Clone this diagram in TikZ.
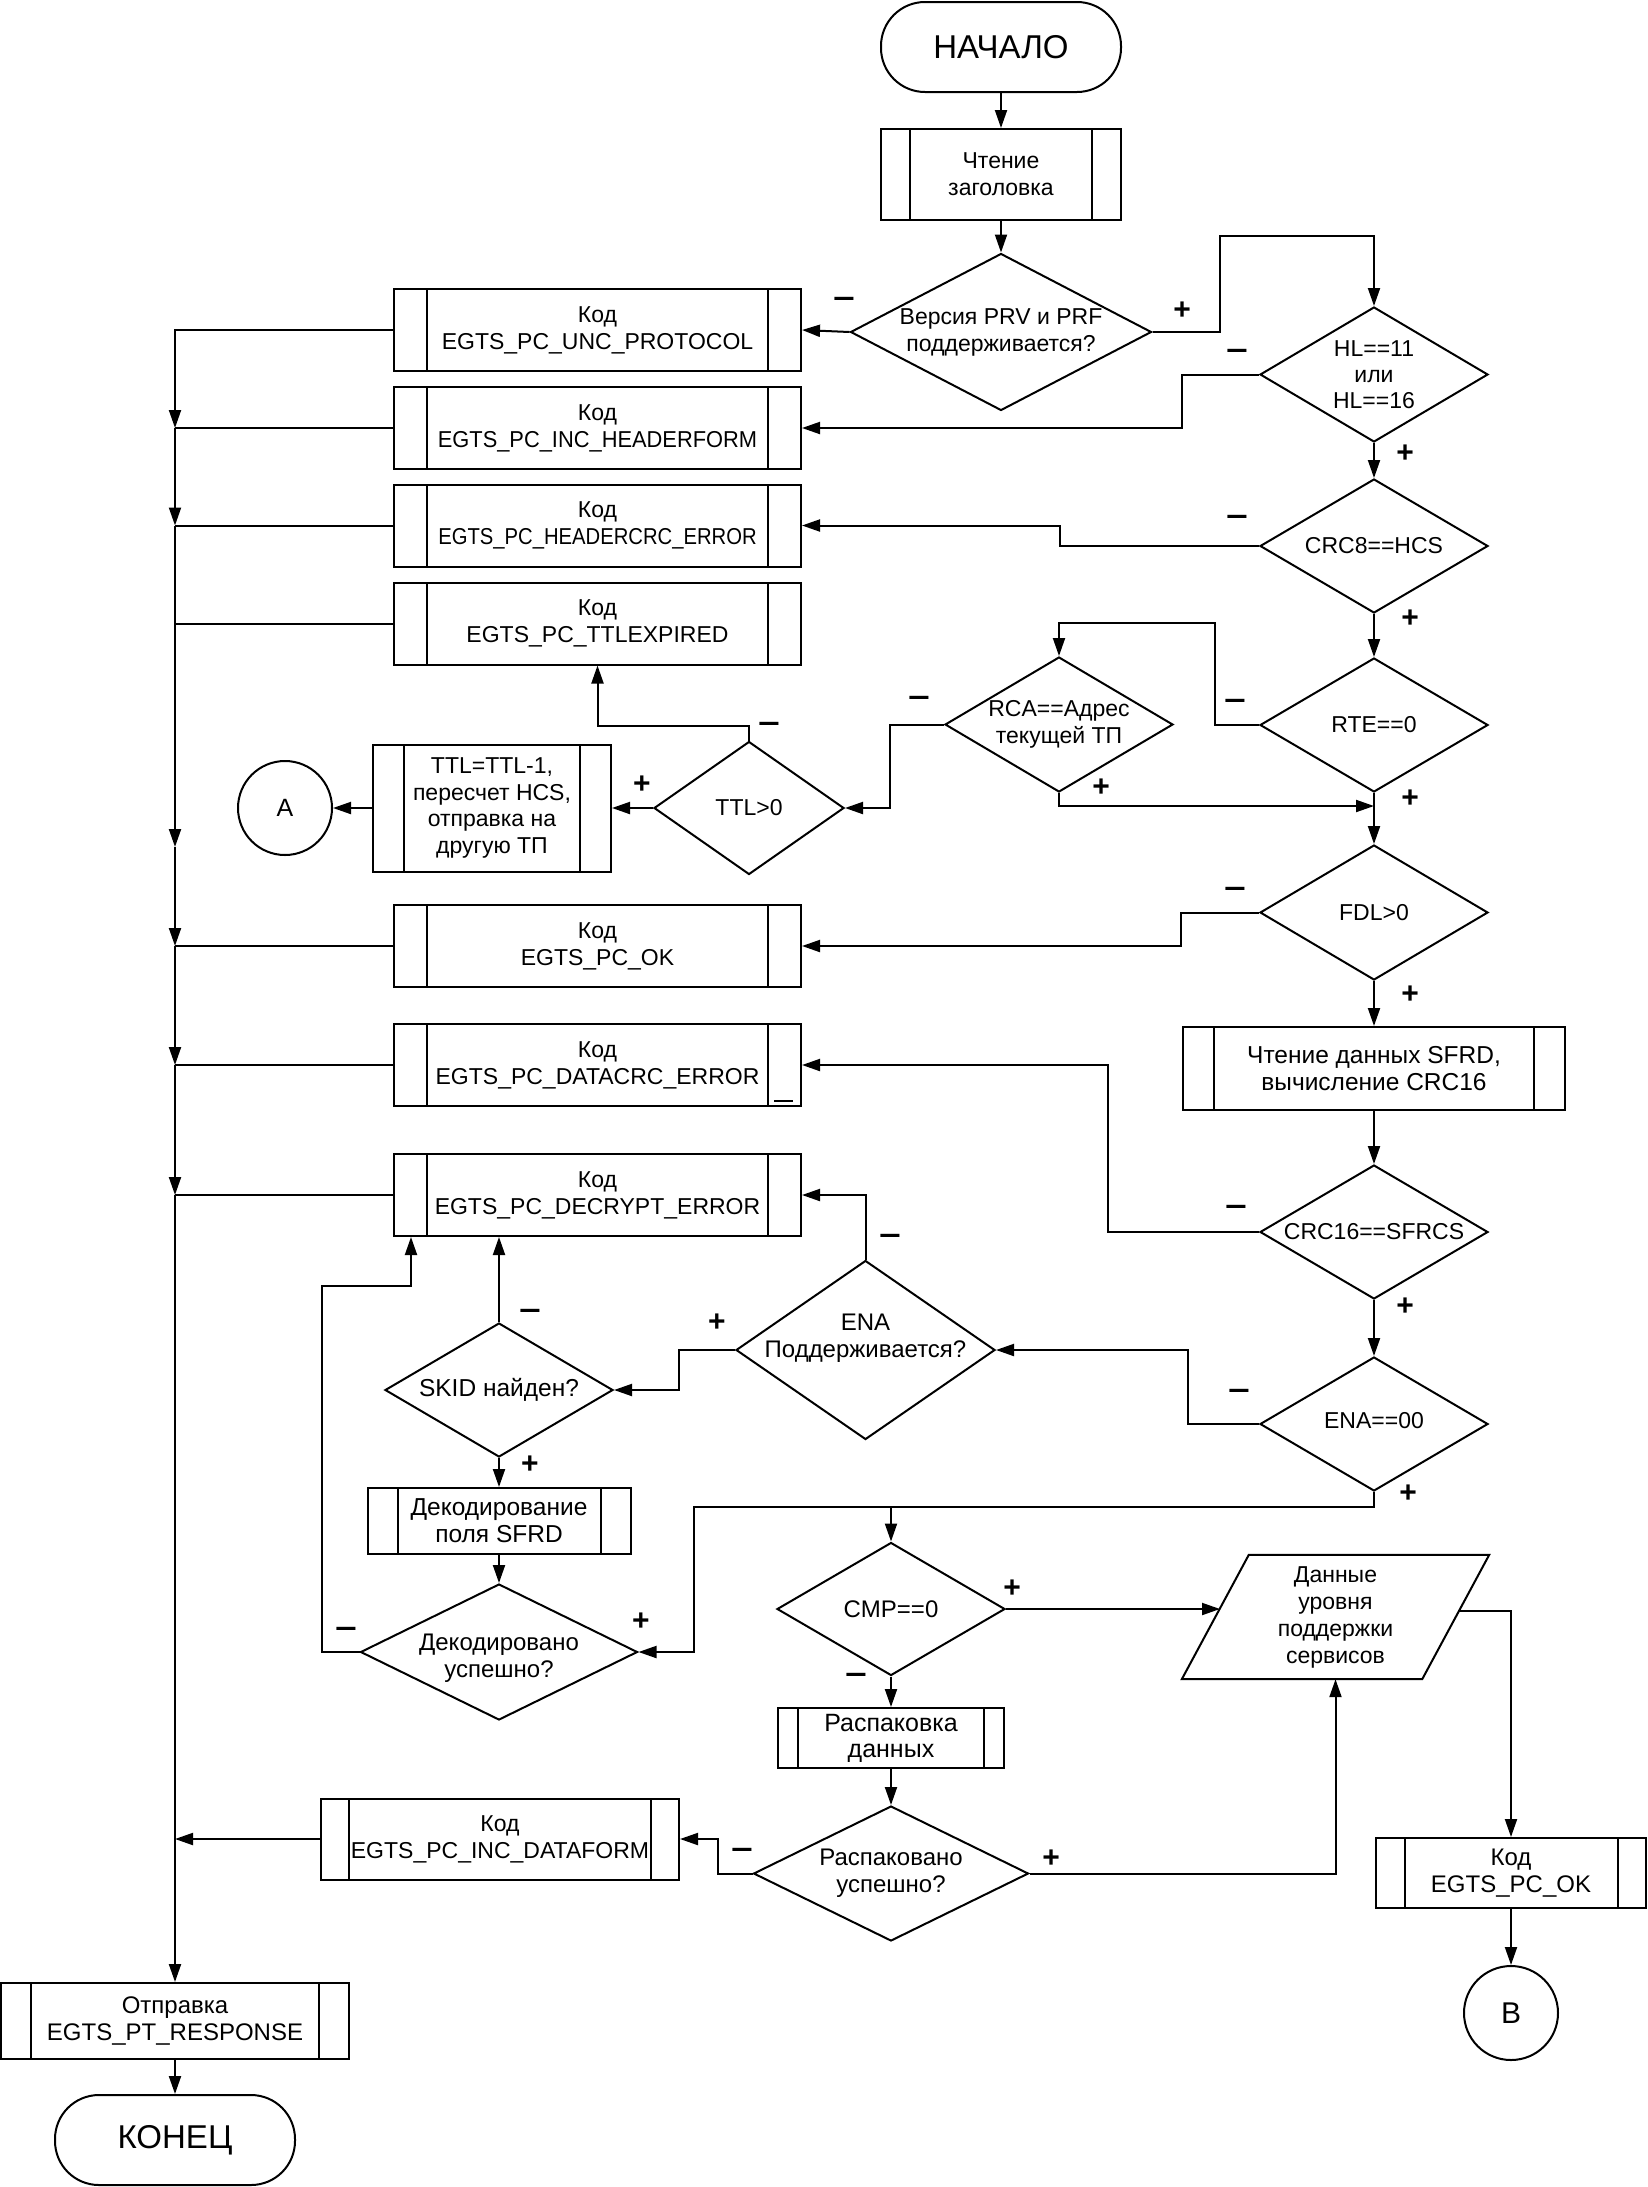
\documentclass[tikz,border=0pt]{standalone}
\usepackage{fontspec}
\usepackage{graphicx}
\setmainfont{Liberation Sans}
\usetikzlibrary{shapes.geometric,arrows.meta}
\newcommand{\fsz}[1]{\fontsize{#1}{27}\selectfont}
\newcommand{\mns}{\scalebox{1.2}[1]{–}}
\begin{document}
\begin{tikzpicture}[x=1pt,y=-1pt,
  every node/.style={inner sep=0pt},
  ln/.style={line width=2pt},
  arr/.style={line width=2pt,-{Triangle[length=18pt,width=12pt]}},
  txt/.style={align=center,font=\fontsize{23}{27}\selectfont},
  sub/.style={draw,line width=2pt,txt,path picture={\draw[line width=2pt] ([xshift=#1]path picture bounding box.north west) -- ([xshift=#1]path picture bounding box.south west) ([xshift=-#1]path picture bounding box.north east) -- ([xshift=-#1]path picture bounding box.south east);}},
  code/.style={sub=33pt,minimum width=407pt,minimum height=82pt},
  dia/.style={draw,diamond,line width=2pt},
  term/.style={draw,line width=2pt,rounded corners=44pt,minimum width=240pt,minimum height=90pt,font=\fontsize{33}{36}\selectfont},
  conn/.style={draw,circle,line width=2pt,minimum size=94pt},
  sg/.style={font=\fontsize{30}{30}\selectfont\bfseries},
  sm/.style={font=\fontsize{32}{32}\selectfont\bfseries}
]
\useasboundingbox (0,0) rectangle (1647,2187);

% ---------- nodes ----------
\node[term] (start) at (1001,47) {НАЧАЛО};
\node[sub=29pt,minimum width=240pt,minimum height=91pt] (read) at (1001,174.5) {Чтение\\заголовка};
\node[dia,minimum width=301pt,minimum height=157pt] (d1) at (1001,332) {};
\node[txt] (d1t) at (d1) {Версия PRV и PRF\\поддерживается?};

\node[code] (c1) at (597.5,330) {Код\\EGTS\_PC\_UNC\_PROTOCOL};
\node[code] (c2) at (597.5,428) {Код\\\scalebox{0.95}[1]{EGTS\_PC\_INC\_HEADERFORM}};
\node[code] (c3) at (597.5,525.5) {Код\\\scalebox{0.88}[1]{EGTS\_PC\_HEADERCRC\_ERROR}};
\node[code] (c4) at (597.5,623.5) {Код\\EGTS\_PC\_TTLEXPIRED};
\node[code] (c5) at (597.5,946) {Код\\EGTS\_PC\_OK};
\node[code] (c6) at (597.5,1065) {Код\\EGTS\_PC\_DATACRC\_ERROR};
\node[code] (c7) at (597.5,1195) {Код\\EGTS\_PC\_DECRYPT\_ERROR};

\node[dia,minimum width=228pt,minimum height=135pt] (d2) at (1374,374.5) {};
\node[txt,font=\fontsize{23}{26}\selectfont] (d2t) at (d2) {HL==11\\или\\HL==16};
\node[dia,minimum width=228pt,minimum height=134pt] (d3) at (1374,546) {};
\node[txt] (d3t) at (d3) {CRC8==HCS};
\node[dia,minimum width=228pt,minimum height=134pt] (d4) at (1374,725) {};
\node[txt] (d4t) at (d4) {RTE==0};
\node[dia,minimum width=228pt,minimum height=135pt] (d5) at (1059,724.5) {};
\node[txt] (d5t) at (d5) {RCA==Адрес\\текущей ТП};
\node[dia,minimum width=190pt,minimum height=133pt] (d6) at (749,808) {};
\node[txt] (d6t) at (d6) {TTL>0};
\node[sub=31pt,minimum width=238pt,minimum height=127pt,font=\fontsize{23}{26.5}\selectfont] (ttlbox) at (492,808) {TTL=TTL-1,\\пересчет HCS,\\отправка на\\другую ТП};
\node[conn,font=\fontsize{25}{25}\selectfont] (circA) at (285,808) {A};
\node[dia,minimum width=228pt,minimum height=135pt] (d7) at (1374,912.5) {};
\node[txt] (d7t) at (d7) {FDL>0};
\node[sub=31pt,minimum width=382pt,minimum height=83pt,font=\fsz{24.5}] (sfrd) at (1374,1068.5) {Чтение данных SFRD,\\вычисление CRC16};
\node[dia,minimum width=228pt,minimum height=134pt] (d8) at (1374,1232) {};
\node[txt] (d8t) at (d8) {CRC16==SFRCS};
\node[dia,minimum width=228pt,minimum height=134pt] (d9) at (1374,1424) {};
\node[txt] (d9t) at ([yshift=3pt]d9.center) {ENA==00};
\node[dia,minimum width=259pt,minimum height=179pt] (d10) at (865.5,1350) {};
\node[txt,font=\fsz{24}] (d10t) at ([yshift=12pt]d10.center) {ENA\\Поддерживается?};
\node[dia,minimum width=228pt,minimum height=134pt] (d11) at (499,1390) {};
\node[txt,font=\fsz{24.5}] (d11t) at (d11) {SKID найден?};
\node[sub=30pt,minimum width=263pt,minimum height=66pt,font=\fsz{24.5}] (dec) at (499,1521) {Декодирование\\поля SFRD};
\node[dia,minimum width=277pt,minimum height=136pt] (d12) at (499,1652) {};
\node[txt,font=\fsz{24}] (d12t) at ([yshift=-6pt]d12.center) {Декодировано\\успешно?};
\node[dia,minimum width=228pt,minimum height=133pt] (d13) at (891,1609) {};
\node[txt,font=\fsz{24}] (d13t) at (d13) {CMP==0};
\node[sub=20pt,minimum width=226pt,minimum height=60pt,font=\fontsize{25}{26}\selectfont] (unpack) at (891,1738) {Распаковка\\данных};
\node[dia,minimum width=275pt,minimum height=135pt] (d14) at (891,1873.5) {};
\node[txt,font=\fsz{24}] (d14t) at (d14) {Распаковано\\успешно?};
\node[sub=28pt,minimum width=358pt,minimum height=81pt] (incdata) at (500,1839) {Код\\EGTS\_PC\_INC\_DATAFORM};
\node[txt,minimum width=240pt,minimum height=124pt] (par) at (1335.5,1617) {Данные\\уровня\\поддержки\\сервисов};
\draw[ln] ([xshift=33.5pt]par.north west) -- ([xshift=33.5pt]par.north east) -- ([xshift=-33.5pt]par.south east) -- ([xshift=-33.5pt]par.south west) -- cycle;
\node[sub=28.5pt,minimum width=270pt,minimum height=70pt,font=\fsz{24}] (ok2) at (1511,1873) {Код\\EGTS\_PC\_OK};
\node[conn,font=\fontsize{30}{30}\selectfont] (circB) at (1511,2013) {B};
\node[sub=30pt,minimum width=348pt,minimum height=76pt,font=\fsz{24}] (send) at (175,2021) {Отправка\\EGTS\_PT\_RESPONSE};
\node[term] (end) at (175,2140) {КОНЕЦ};

% mark in DATACRC box
\draw[line width=2.5pt] (774,1101) -- (793,1101);

% ---------- coordinates ----------
\coordinate (b2) at (175,428);
\coordinate (b3) at (175,525.5);
\coordinate (b4) at (175,623.5);
\coordinate (bA) at (175,847);
\coordinate (b5) at (175,946);
\coordinate (b6) at (175,1065);
\coordinate (b7) at (175,1195);
\coordinate (b8) at (175,1839);
\coordinate (j1) at (1374,806);
\coordinate (j2) at (891,1507);
\coordinate (parL) at (1220,1609);
\coordinate (parR) at (1458.5,1611);

% ---------- connectors ----------
\draw[arr] (start) -- (read);
\draw[arr] (read) -- (d1);
\draw[arr] (d1.west) -- (c1.east);
\draw[arr] (d1.east) -| (1220,236) -| (d2.north);
\draw[arr] (d2.west) -| (1182,428) -- (c2.east);
\draw[arr] (d2.south) -- (d3.north);
\draw[arr] (d3.west) -| (1060,525.5) -- (c3.east);
\draw[arr] (d3.south) -- (d4.north);
\draw[arr] (d4.west) -| (1215,623) -| (d5.north);
\draw[arr] (d5.west) -| (890,808) -- (d6.east);
\draw[arr] (d5.south) |- (j1);
\draw[arr] (d4.south) -- (d7.north);
\draw[arr] (d6.north) -- (749,726) -| (c4.south);
\draw[arr] (d6.west) -- (ttlbox.east);
\draw[arr] (ttlbox.west) -- (circA.east);
\draw[arr] (d7.west) -| (1181,946) -- (c5.east);
\draw[arr] (d7.south) -- (sfrd.north);
\draw[arr] (sfrd.south) -- (d8.north);
\draw[arr] (d8.west) -| (1108,1065) -- (c6.east);
\draw[arr] (d8.south) -- (d9.north);
\draw[arr] (d9.west) -| (1188,1350) -- (d10.east);
\draw[arr] (d10.north) |- (c7.east);
\draw[arr] (d10.west) -| (679,1390) -- (d11.east);
\draw[arr] (d11.north) -- (d11.north |- c7.south);
\draw[arr] (d11.south) -- (dec.north);
\draw[arr] (dec.south) -- (d12.north);
\draw[arr] (d12.west) -| (322,1286) -| ([xshift=18pt]c7.south west);
\draw[arr] (d9.south) |- (694,1507) |- (d12.east);
\draw[arr] (j2) -- (d13.north);
\draw[arr] (d13.east) -- (parL);
\draw[arr] (d13.south) -- (unpack.north);
\draw[arr] (unpack.south) -- (d14.north);
\draw[arr] (d14.west) -| (718,1839) -- (incdata.east);
\draw[arr] (d14.east) -| (par.south);
\draw[arr] (parR) -| (ok2.north);
\draw[arr] (ok2.south) -- (circB.north);
\draw[arr] (incdata.west) -- (b8);

% left bus
\draw[arr] (c1.west) -| (b2);
\draw[ln] (c2.west) -- (b2);
\draw[arr] (b2) -- (b3);
\draw[ln] (c3.west) -- (b3);
\draw[ln] (b3) -- (b4);
\draw[ln] (c4.west) -- (b4);
\draw[arr] (b4) -- (bA);
\draw[arr] (bA) -- (b5);
\draw[ln] (c5.west) -- (b5);
\draw[arr] (b5) -- (b6);
\draw[ln] (c6.west) -- (b6);
\draw[arr] (b6) -- (b7);
\draw[ln] (c7.west) -- (b7);
\draw[arr] (b7) -- (send.north);
\draw[arr] (send.south) -- (end.north);

% ---------- branch labels ----------
\node[sm] (l1) at (844,302) {\mns};
\node[sg] (l2) at (1182,311) {+};
\node[sm] (l3) at (1237,354) {\mns};
\node[sg] (l4) at (1405,454) {+};
\node[sm] (l5) at (1237,520) {\mns};
\node[sg] (l6) at (1410,619) {+};
\node[sm] (l7) at (1235,704) {\mns};
\node[sm] (l8) at (919,701) {\mns};
\node[sg] (l9) at (1101,788) {+};
\node[sg] (l10) at (1410,799) {+};
\node[sm] (l11) at (769,727) {\mns};
\node[sg] (l12) at (642,785) {+};
\node[sm] (l13) at (1235,892) {\mns};
\node[sg] (l14) at (1410,995) {+};
\node[sm] (l15) at (1236,1210) {\mns};
\node[sg] (l16) at (1405,1307) {+};
\node[sm] (l17) at (1239,1394) {\mns};
\node[sg] (l18) at (1408,1494) {+};
\node[sm] (l19) at (890,1239) {\mns};
\node[sg] (l20) at (717,1323) {+};
\node[sm] (l21) at (530,1314) {\mns};
\node[sg] (l22) at (530,1465) {+};
\node[sm] (l23) at (346,1632) {\mns};
\node[sg] (l24) at (641,1622) {+};
\node[sg] (l25) at (1012,1589) {+};
\node[sm] (l26) at (856,1678) {\mns};
\node[sm] (l27) at (742,1853) {\mns};
\node[sg] (l28) at (1051,1859) {+};
\end{tikzpicture}
\end{document}
